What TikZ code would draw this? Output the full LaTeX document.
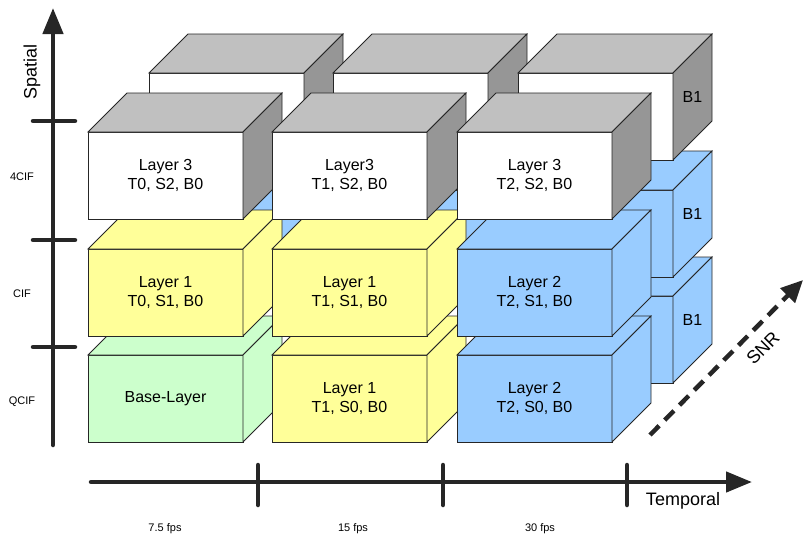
\documentclass[tikz,border=0pt]{standalone}
\usepackage{fontspec}
\setmainfont{Liberation Sans}
\usetikzlibrary{arrows.meta}
\definecolor{boxyellow}{HTML}{FFFF99}
\definecolor{boxblue}{HTML}{99CCFF}
\definecolor{boxgreen}{HTML}{CCFFCC}
\definecolor{boxtop}{HTML}{C0C0C0}
\definecolor{boxside}{HTML}{969696}
\tikzset{
  pics/block/.style args={#1/#2/#3}{% #1=front, #2=top, #3=side
    code = {
      \coordinate (-front) at (77.5, 43.5);
      \coordinate (-side) at (174.5, 24);
      \filldraw[fill=#1] (0, 0) rectangle (155, 87);
      \filldraw[fill=#2] (0, 0) -- (39, -39) -- (194, -39) -- (155, 0) -- cycle;
      \filldraw[fill=#3] (155, 0) -- (194, -39) -- (194, 48) -- (155, 87) -- cycle;
}}}
\tikzset{
  axis/.style={line width=4.5pt, line cap=round},
  boxtext/.style={font=\fontsize{16}{19.5}\selectfont, align=center},
  small/.style={font=\fontsize{11}{13}\selectfont},
  big/.style={font=\fontsize{18}{21}\selectfont}
}

\begin{document}
\begin{tikzpicture}[x=1pt, y=-1pt, line width=0.8pt, draw=black!85]
  \useasboundingbox (0, 0) rectangle (805, 538);
  % B1 layer behind
  \pic (back31) at (518, 296) {block=boxblue/boxblue/boxblue};
  \pic (back12) at (149, 190) {block=boxblue/boxblue/boxblue};
  \pic (back22) at (333, 190) {block=boxblue/boxblue/boxblue};
  \pic (back32) at (518, 190) {block=boxblue/boxblue/boxblue};
  \pic (back13) at (149, 73) {block=white/boxtop/boxside};
  \pic (back23) at (333, 73) {block=white/boxtop/boxside};
  \pic (back33) at (518, 73) {block=white/boxtop/boxside};
  % B0 layer in front
  \pic (block11) at (88, 355) {block=boxgreen/boxgreen/boxgreen};
  \pic (block21) at (272, 355) {block=boxyellow/boxyellow/boxyellow};
  \pic (block31) at (457, 355) {block=boxblue/boxblue/boxblue};
  \pic (block12) at (88, 249) {block=boxyellow/boxyellow/boxyellow};
  \pic (block22) at (272, 249) {block=boxyellow/boxyellow/boxyellow};
  \pic (block32) at (457, 249) {block=boxblue/boxblue/boxblue};
  \pic (block13) at (88, 132) {block=white/boxtop/boxside};
  \pic (block23) at (272, 132) {block=white/boxtop/boxside};
  \pic (block33) at (457, 132) {block=white/boxtop/boxside};
  % labels
  \node[boxtext] (base) at (block11-front) {Base-Layer};
  \node[boxtext] (l1t1s0) at (block21-front) {Layer 1\\T1, S0, B0};
  \node[boxtext] (l2t2s0) at (block31-front) {Layer 2\\T2, S0, B0};
  \node[boxtext] (l1t0s1) at (block12-front) {Layer 1\\T0, S1, B0};
  \node[boxtext] (l1t1s1) at (block22-front) {Layer 1\\T1, S1, B0};
  \node[boxtext] (l2t2s1) at (block32-front) {Layer 2\\T2, S1, B0};
  \node[boxtext] (l3t0s2) at (block13-front) {Layer 3\\T0, S2, B0};
  \node[boxtext] (l3t1s2) at (block23-front) {Layer3\\T1, S2, B0};
  \node[boxtext] (l3t2s2) at (block33-front) {Layer 3\\T2, S2, B0};
  \node[boxtext] (b1s0) at (back31-side) {B1};
  \node[boxtext] (b1s1) at (back32-side) {B1};
  \node[boxtext] (b1s2) at (back33-side) {B1};
  % axes
  \coordinate (spatial-in) at (53, 445);
  \coordinate (spatial-out) at (53, 8);
  \coordinate (temporal-in) at (91, 482);
  \coordinate (temporal-out) at (752, 482);
  \coordinate (snr-in) at (650, 435);
  \coordinate (snr-out) at (803, 280);
  \draw[axis, -{Triangle[length=26pt, width=20pt]}] (spatial-in) -- (spatial-out);
  \draw[axis, -{Triangle[length=26pt, width=20pt]}] (temporal-in) -- (temporal-out);
  \draw[axis, line cap=butt, dash pattern=on 13pt off 8pt, -{Triangle[length=22pt, width=20pt]}] (snr-in) -- (snr-out);
  \draw[axis] (33, 121) -- (75, 121);
  \draw[axis] (33, 240) -- (75, 240);
  \draw[axis] (33, 347) -- (75, 347);
  \draw[axis] (258, 465) -- (258, 505);
  \draw[axis] (443, 465) -- (443, 505);
  \draw[axis] (627, 465) -- (627, 505);
  \node[big, rotate=90] (spatial) at (32, 72) {Spatial};
  \node[small] (cif4) at (22, 177) {4CIF};
  \node[small] (cif) at (22, 294) {CIF};
  \node[small] (qcif) at (22, 402) {QCIF};
  \node[big] (temporal) at (683, 501) {Temporal};
  \node[big, rotate=45] (snr) at (763, 348) {SNR};
  \node[small] (fps7) at (165, 529) {7.5 fps};
  \node[small] (fps15) at (353, 529) {15 fps};
  \node[small] (fps30) at (540, 529) {30 fps};
\end{tikzpicture}
\end{document}
